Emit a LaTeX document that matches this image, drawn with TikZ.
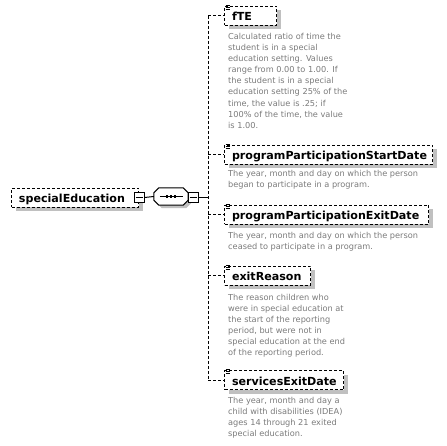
\documentclass[tikz,border=0pt]{standalone}
\usepackage{fontspec}
\setmainfont{DejaVu Sans}
\usetikzlibrary{shadows}
\definecolor{shadowgray}{RGB}{192,192,192}
\definecolor{descgray}{RGB}{122,122,122}
\begin{document}
\begin{tikzpicture}[x=1pt,y=-1pt,
  lbl/.style={font=\fontsize{11.1}{13}\selectfont\bfseries},
  elem/.style={draw=black, line width=1pt, dash pattern=on 3pt off 2pt, fill=white,
    minimum height=19pt, inner ysep=0pt, inner xsep=7.5pt, anchor=north west, align=left,
    text height=10pt, text depth=0pt, lbl,
    drop shadow={shadow xshift=4pt, shadow yshift=-4pt, fill=shadowgray, opacity=1}},
  desc/.style={anchor=north west, inner sep=0pt, align=left, text=descgray,
    font=\fontsize{8.2}{11.1}\selectfont},
  conn/.style={line width=1pt, dash pattern=on 3pt off 2pt},
  solidline/.style={line width=1pt},
  minusbox/.style={draw=black, line width=1pt, fill=white, minimum size=10pt, inner sep=0pt},
  icon/.style={line width=0.7pt}
]
\useasboundingbox (0,0) rectangle (447,446);

% root element
\node[elem, text width=112pt] (root) at (11,188) {specialEducation};
\node[minusbox] (rm) at (139,197.5) {};
\draw[solidline] ([xshift=2pt]rm.west) -- ([xshift=-2pt]rm.east);

% sequence compositor
\node[minimum width=34pt, minimum height=17pt, inner sep=0pt] (seq) at (171,196.5) {};
\filldraw[fill=white, draw=black, solidline,
  drop shadow={shadow xshift=3pt, shadow yshift=-3pt, fill=shadowgray, opacity=1}]
  ([xshift=5pt]seq.north west) -- ([xshift=-5pt]seq.north east)
  -- ([yshift=-5pt]seq.north east) -- ([yshift=5pt]seq.south east)
  -- ([xshift=-5pt]seq.south east) -- ([xshift=5pt]seq.south west)
  -- ([yshift=5pt]seq.south west) -- ([yshift=-5pt]seq.north west) -- cycle;
\draw[solidline] ([xshift=6pt]seq.west) -- ([xshift=-5pt]seq.east);
\foreach \dx in {-4,0,4} \fill ([xshift=\dx pt]seq.center) +(-1.4,-1.4) rectangle +(1.4,1.4);
\node[minusbox] (sm) at (193,197.5) {};
\draw[solidline] ([xshift=2pt]sm.west) -- ([xshift=-2pt]sm.east);

\draw[solidline] (rm.east) -- (seq.west);
\coordinate (jun) at (208,197.5);
\draw[solidline] (sm.east) -- (jun);

% children
\node[elem, text width=37pt] (fte) at (224,6) {fTE};
\node[elem, text width=193pt] (start) at (224,145) {programParticipationStartDate};
\node[elem, text width=189pt] (exit) at (224,205) {programParticipationExitDate};
\node[elem, text width=71pt] (reason) at (224,266) {exitReason};
\node[elem, text width=104pt] (svc) at (224,370) {servicesExitDate};

% element icons
\foreach \n in {fte,start,exit,reason,svc}{
  \foreach \dy in {-0.5,1.2,2.9}
    \draw[icon] ([xshift=1.5pt,yshift=-\dy pt]\n.north west) -- ++(4.5,0);
}

% connectors
\draw[conn] (fte.west -| jun) -- (svc.west -| jun);
\foreach \n in {fte,start,exit,reason,svc}
  \draw[conn] (\n.west -| jun) -- (\n.west);

% descriptions
\node[desc] (dfte) at (228,33) {Calculated ratio of time the\\student is in a special\\education setting. Values\\range from 0.00 to 1.00. If\\the student is in a special\\education setting 25\% of the\\time, the value is .25; if\\100\% of the time, the value\\is 1.00.};
\node[desc] (dstart) at (228,170) {The year, month and day on which the person\\began to participate in a program.};
\node[desc] (dexit) at (228,232) {The year, month and day on which the person\\ceased to participate in a program.};
\node[desc] (dreason) at (228,294) {The reason children who\\were in special education at\\the start of the reporting\\period, but were not in\\special education at the end\\of the reporting period.};
\node[desc] (dsvc) at (228,397) {The year, month and day a\\child with disabilities (IDEA)\\ages 14 through 21 exited\\special education.};
\end{tikzpicture}
\end{document}
